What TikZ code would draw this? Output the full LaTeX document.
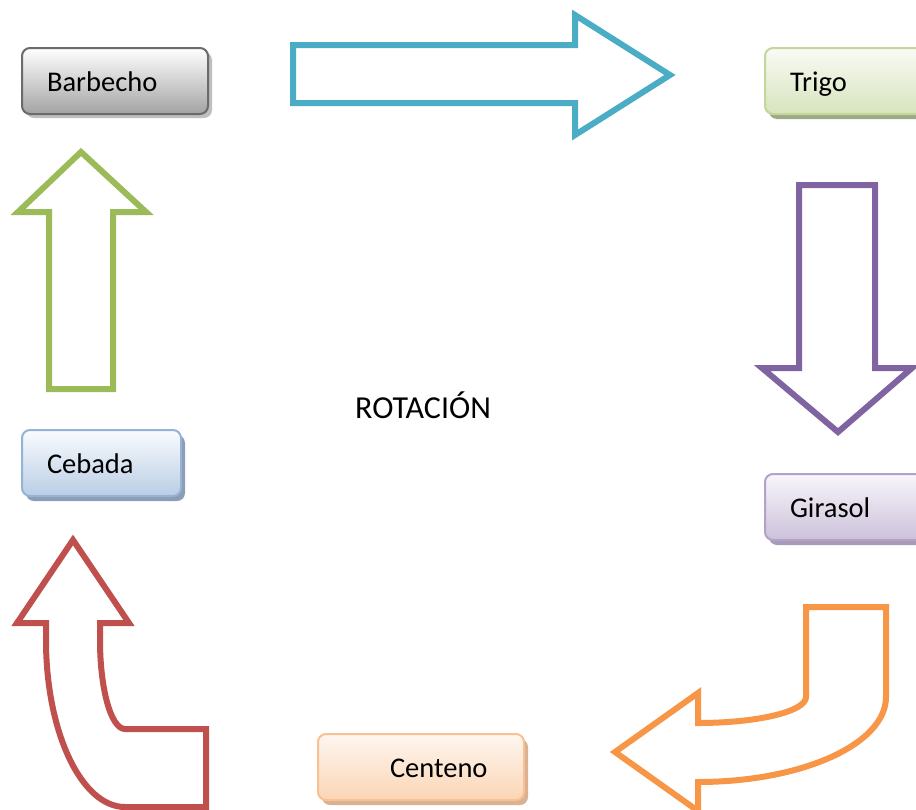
\documentclass[tikz,border=0pt]{standalone}
\usepackage{fontspec}
\setmainfont{Carlito}
\usetikzlibrary{shadows}
\definecolor{cblue}{HTML}{4BACC6}
\definecolor{cpurple}{HTML}{8064A2}
\definecolor{cgreen}{HTML}{9BBB59}
\definecolor{cred}{HTML}{C0504D}
\definecolor{corange}{HTML}{F79646}
\tikzset{
  box/.style={rounded corners=8pt, line width=2pt, anchor=north west, minimum height=66pt,
    inner xsep=25pt, inner ysep=0pt, align=left, text=black, text height=22pt, text depth=2pt,
    font=\fontsize{28.5}{34}\selectfont},
  arrowshape/.style={line width=6pt, line join=miter, fill=white},
  lbl/.style={font=\fontsize{32}{38}\selectfont, inner sep=0pt}
}
\begin{document}
\begin{tikzpicture}[x=1pt,y=-1pt]
\useasboundingbox (0,0) rectangle (916,809);
\clip (0,0) rectangle (916,809);
% boxes
\node[box, draw=black!58, top color=white, bottom color=black!36,
  drop shadow={shadow xshift=4pt, shadow yshift=-4pt, fill=black!25, opacity=1},
  text width=136pt] (barbecho) at (21,47) {Barbecho};
\node[box, draw=cgreen!60, top color=cgreen!6, bottom color=cgreen!40,
  drop shadow={shadow xshift=4pt, shadow yshift=-5pt, fill=cgreen!60!black!60, opacity=1},
  text width=136pt] (trigo) at (764,47) {Trigo};
\node[box, draw={rgb,255:red,149;green,179;blue,215},
  top color={rgb,255:red,250;green,252;blue,254}, bottom color={rgb,255:red,185;green,205;blue,229},
  drop shadow={shadow xshift=4pt, shadow yshift=-5pt, fill={rgb,255:red,140;green,158;blue,182}, opacity=1},
  text width=109pt] (cebada) at (21,429) {Cebada};
\node[box, draw={rgb,255:red,179;green,162;blue,199},
  top color={rgb,255:red,248;green,246;blue,251}, bottom color={rgb,255:red,204;green,193;blue,218},
  drop shadow={shadow xshift=4pt, shadow yshift=-5pt, fill={rgb,255:red,168;green,155;blue,184}, opacity=1},
  text width=136pt] (girasol) at (764,473) {Girasol};
\node[box, draw={rgb,255:red,250;green,192;blue,144},
  top color={rgb,255:red,254;green,246;blue,240}, bottom color={rgb,255:red,251;green,213;blue,181},
  drop shadow={shadow xshift=4pt, shadow yshift=-5pt, fill={rgb,255:red,216;green,178;blue,146}, opacity=1},
  inner xsep=0pt, text width=206pt] (centeno) at (317,733) {\hspace*{72pt}Centeno};
\node[lbl, anchor=base west] (rot) at (355,418) {ROTACIÓN};
% arrows
\draw[arrowshape, draw=cblue] (293,45) -- (575,45) -- (575,15) -- (670,75) -- (575,135) -- (575,103) -- (293,103) -- cycle;
\draw[arrowshape, draw=cpurple] (799,185) -- (875,185) -- (875,368) -- (912,368) -- (838,432) -- (762,368) -- (799,368) -- cycle;
\draw[arrowshape, draw=cgreen] (49,389) -- (49,212) -- (18,212) -- (81,152) -- (146,212) -- (113,212) -- (113,389) -- cycle;
\draw[arrowshape, draw=corange] (806,607) -- (886,607) -- (886,697)
  .. controls (886,744) and (802,782) .. (698,782) -- (698,811) -- (615,752) -- (698,693) -- (698,723)
  .. controls (757.6,723) and (806,711.4) .. (806,697) -- cycle;
\draw[arrowshape, draw=cred] (73,540) -- (129,623) -- (100,623) -- (100,640)
  .. controls (100,689) and (111,729) .. (125,729) -- (206,729) -- (206,807) -- (125,807)
  .. controls (81.4,807) and (46,732) .. (46,640) -- (46,623) -- (17,623) -- cycle;
\end{tikzpicture}
\end{document}
